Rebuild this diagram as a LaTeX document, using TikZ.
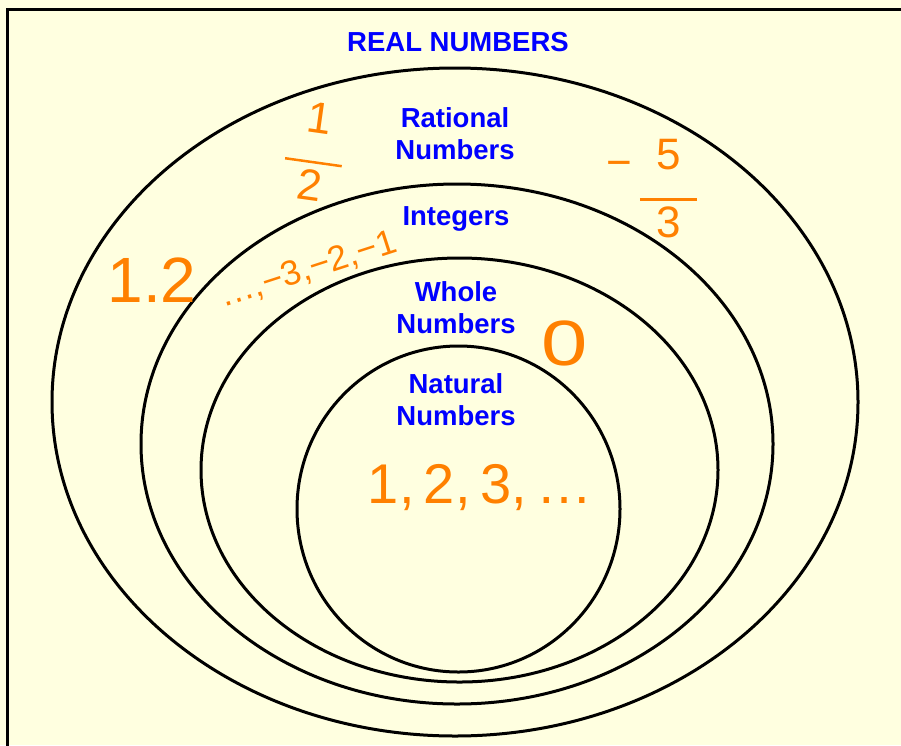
\documentclass[tikz,border=0pt]{standalone}
\usepackage{fontspec}
\setmainfont{Liberation Sans}
\definecolor{paper}{RGB}{255,255,224}
\definecolor{setblue}{RGB}{0,0,255}
\definecolor{penorange}{RGB}{255,128,0}
% hand-written fraction: numerator, bar, denominator
\newcommand{\penfrac}[2]{\begin{tabular}{@{}c@{}}#1\\[-0.3em]\rule{1.3em}{2.5pt}\\[-0.15em]#2\end{tabular}}

\begin{document}
\begin{tikzpicture}[x=1pt, y=-1pt,
  venn/.style={draw=black, line width=3pt},
  setname/.style={text=setblue, font=\bfseries\fontsize{27.5}{32}\selectfont, align=center, inner sep=0pt},
  hand/.style={text=penorange, inner sep=0pt}]
\fill[paper] (0,0) rectangle (901,745);
\useasboundingbox (0,0) rectangle (901,745);
\draw[line width=3pt] (7.5,9.5) rectangle (930,770);

% nested sets
\draw[venn] (455,402) ellipse [x radius=403, y radius=334];
\draw[venn] (457,444) ellipse [x radius=316, y radius=260];
\draw[venn] (459.5,470) ellipse [x radius=258.5, y radius=212];
\draw[venn] (458.5,509) ellipse [x radius=161.5, y radius=163];

% set names
\node[setname] (real) at (458,42) {REAL NUMBERS};
\node[setname] (rational) at (455,134) {Rational\\Numbers};
\node[setname] (integers) at (456,219) {Integers};
\node[setname] (whole) at (456,308) {Whole\\Numbers};
\node[setname] (natural) at (456,400) {Natural\\Numbers};

% hand-written examples
\node[hand, font=\fontsize{44}{44}\selectfont, rotate=-8] (half) at (314,158) {\penfrac{1}{2}};
\node[hand, font=\fontsize{44}{44}\selectfont] (fivethirds) at (652,195) {\raisebox{0.55em}{−}\,\penfrac{5}{3}};
\node[hand, font=\fontsize{64}{64}\selectfont] (onepoint) at (152,280) {1.2};
\node[hand, font=\fontsize{35}{35}\selectfont, rotate=18] (negs) at (308,270) {…,−3,−2,−1};
\node[hand, font=\fontsize{64}{64}\selectfont, xscale=1.3] (zero) at (565,343) {0};
\node[hand, font=\fontsize{56}{56}\selectfont] (counting) at (480,488) {1,\,2,\,3,\,…};
\end{tikzpicture}
\end{document}
